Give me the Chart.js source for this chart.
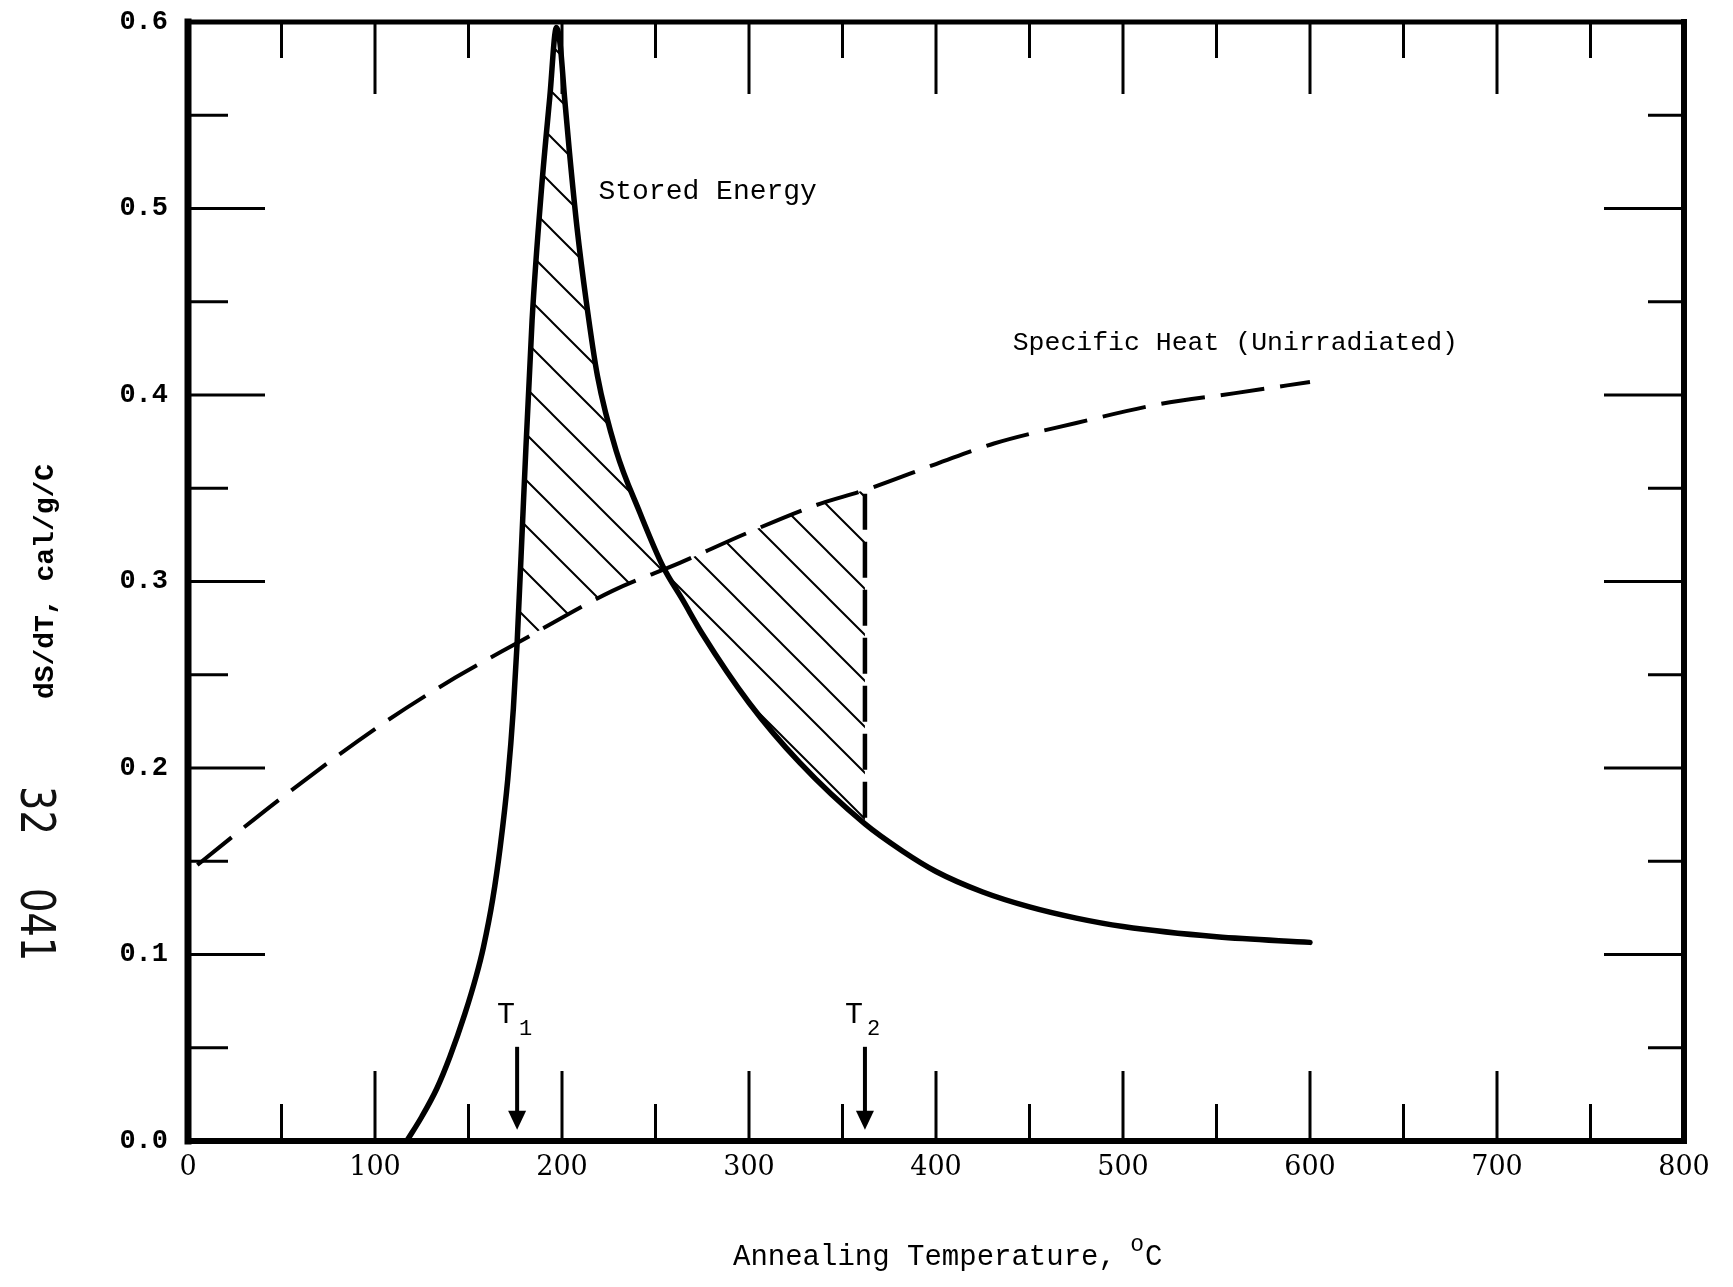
<!DOCTYPE html>
<html>
<head>
<meta charset="utf-8">
<title>Stored Energy and Specific Heat vs Annealing Temperature</title>
<script src="https://cdn.jsdelivr.net/npm/chart.js@4.4.1/dist/chart.umd.min.js"></script>
<style>
    html, body { margin: 0; padding: 0; background: #fff; }
    canvas { display: block; }
</style>
</head>
<body>
<canvas id="chart" width="1733" height="1287"></canvas>
<script>
// ---------- Data ----------
const storedTemps = [117, 125, 133, 140, 148, 154, 158, 163, 167, 171, 174, 176, 179.5, 184, 189, 193.5, 197, 199, 201.5, 204, 208, 213, 219, 229, 241.6, 254, 264.6, 275, 300, 327, 362, 382, 400, 425, 450, 475, 500, 550, 600];
const storedVals  = [0, 0.013, 0.028, 0.045, 0.068, 0.088, 0.104, 0.13, 0.158, 0.194, 0.232, 0.267, 0.345, 0.44, 0.51, 0.56, 0.597, 0.588, 0.558, 0.53, 0.49, 0.45, 0.41, 0.37, 0.337, 0.308, 0.29, 0.272, 0.235, 0.203, 0.17, 0.1555, 0.1445, 0.1335, 0.1255, 0.1195, 0.115, 0.1095, 0.1065];

const heatTemps = [5, 50, 103, 143, 176, 227, 263, 299, 336, 362, 400, 431, 475, 519, 560, 600];
const heatVals  = [0.148, 0.184, 0.223, 0.2485, 0.267, 0.295, 0.31, 0.326, 0.341, 0.349, 0.363, 0.374, 0.385, 0.395, 0.401, 0.407];

// T1 and T2 markers, and the dashed boundary at T2
const arrowTemps = [176, 362];
const arrowNames = ["1", "2"];
const t2LineVals = [0.347, 0.171];

// Tick labels
const xTickLabels = ["0", "100", "200", "300", "400", "500", "600", "700", "800"];
const yTickLabels = ["0.0", "0.1", "0.2", "0.3", "0.4", "0.5", "0.6"];

// Curve labels (data coordinates of the text start)
const curveLabels = [
    { text: "Stored Energy", t: 219.5, v: 0.505, size: 28 },
    { text: "Specific Heat (Unirradiated)", t: 441, v: 0.424, size: 26.5 }
];

// ---------- Helpers ----------
const toPts = (xs, ys) => xs.map((x, i) => ({ x: x, y: ys[i] }));
const inHatch = t => t >= arrowTemps[0] && t <= arrowTemps[1];

const storedPts = toPts(storedTemps, storedVals);
const heatPts = toPts(heatTemps, heatVals);

// diagonal "\" hatch pattern
function makeHatch() {
    const s = 46;
    const c = document.createElement("canvas");
    c.width = s;
    c.height = s;
    const g = c.getContext("2d");
    g.strokeStyle = "#000";
    g.lineWidth = 2;
    g.beginPath();
    g.moveTo(-4, -4); g.lineTo(s + 4, s + 4);
    g.moveTo(s - 4, -4); g.lineTo(s + 4, 4);
    g.moveTo(-4, s - 4); g.lineTo(4, s + 4);
    g.stroke();
    return g.createPattern(c, "repeat");
}
const hatch = makeHatch();

// ---------- Frame with inward ticks on all four sides ----------
const framePlugin = {
    id: "frame",
    afterDraw(chart) {
        const { ctx, chartArea: a, scales: { x, y } } = chart;
        ctx.save();
        ctx.strokeStyle = "#000";
        ctx.lineCap = "butt";

        ctx.lineWidth = 3;
        ctx.beginPath();
        for (let t = 50; t < 800; t += 50) {
            const px = x.getPixelForValue(t);
            const long = t % 100 === 0;
            ctx.moveTo(px, a.top);
            ctx.lineTo(px, a.top + (long ? 72 : 36));
            ctx.moveTo(px, a.bottom);
            ctx.lineTo(px, a.bottom - (long ? 70 : 37));
        }
        for (let i = 1; i < 12; i++) {
            const py = y.getPixelForValue(i * 0.05);
            const long = i % 2 === 0;
            ctx.moveTo(a.left, py);
            ctx.lineTo(a.left + (long ? 77 : 40), py);
            ctx.moveTo(a.right, py);
            ctx.lineTo(a.right - (long ? 80 : 36), py);
        }
        ctx.stroke();

        // sides
        ctx.lineCap = "square";
        ctx.lineWidth = 7;
        ctx.beginPath(); ctx.moveTo(a.left, a.top); ctx.lineTo(a.left, a.bottom); ctx.stroke();
        ctx.lineWidth = 6;
        ctx.beginPath(); ctx.moveTo(a.left, a.bottom); ctx.lineTo(a.right, a.bottom); ctx.stroke();
        ctx.beginPath(); ctx.moveTo(a.right, a.top); ctx.lineTo(a.right, a.bottom); ctx.stroke();
        ctx.lineWidth = 5;
        ctx.beginPath(); ctx.moveTo(a.left, a.top); ctx.lineTo(a.right, a.top); ctx.stroke();
        ctx.restore();
    }
};

// ---------- Labels, arrows, axis title ----------
const notesPlugin = {
    id: "notes",
    afterDraw(chart) {
        const { ctx, scales: { x, y } } = chart;
        ctx.save();
        ctx.fillStyle = "#000";
        ctx.strokeStyle = "#000";
        ctx.textBaseline = "alphabetic";
        ctx.textAlign = "left";

        // curve labels
        curveLabels.forEach(l => {
            ctx.font = l.size + 'px "Liberation Mono"';
            ctx.fillText(l.text, x.getPixelForValue(l.t), y.getPixelForValue(l.v));
        });

        // T1 / T2 arrows
        arrowTemps.forEach((t, i) => {
            const px = x.getPixelForValue(t);
            const top = y.getPixelForValue(0.0505);
            const tip = y.getPixelForValue(0.006);
            ctx.lineWidth = 4;
            ctx.beginPath();
            ctx.moveTo(px, top);
            ctx.lineTo(px, tip - 14);
            ctx.stroke();
            ctx.beginPath();
            ctx.moveTo(px - 9, tip - 19);
            ctx.lineTo(px + 9, tip - 19);
            ctx.lineTo(px, tip);
            ctx.closePath();
            ctx.fill();

            ctx.font = '30px "Liberation Mono"';
            ctx.fillText("T", px - 20, top - 24);
            ctx.font = '22px "Liberation Mono"';
            ctx.fillText(arrowNames[i], px + 2, top - 12);
        });

        // x axis title with superscript o
        let tx = 733;
        const ty = 1265;
        ctx.font = '29px "Liberation Mono"';
        const main = "Annealing Temperature, ";
        ctx.fillText(main, tx, ty);
        tx += ctx.measureText(main).width - 3;
        ctx.font = '23px "Liberation Mono"';
        ctx.fillText("o", tx, ty - 14);
        tx += ctx.measureText("o").width + 1;
        ctx.font = '29px "Liberation Mono"';
        ctx.fillText("C", tx, ty);

        // margin stamp
        ctx.fillStyle = "#111";
        ctx.font = '48px "DejaVu Sans"';
        ctx.textBaseline = "middle";
        [["32", 786], ["041", 888]].forEach(s => {
            ctx.save();
            ctx.translate(33, s[1]);
            ctx.rotate(Math.PI / 2);
            ctx.scale(0.8, 1);
            ctx.fillText(s[0], 0, 0);
            ctx.restore();
        });
        ctx.restore();
    }
};

// ---------- Chart ----------
const ctx = document.getElementById("chart").getContext("2d");

const chart = new Chart(ctx, {
    type: "line",
    data: {
        datasets: [
            {
                label: "hatch stored",
                data: storedPts.filter(p => inHatch(p.x)),
                borderColor: "rgba(0,0,0,0)",
                borderWidth: 1,
                pointRadius: 0,
                cubicInterpolationMode: "monotone",
                backgroundColor: hatch,
                fill: 1,
                order: 5
            },
            {
                label: "hatch heat",
                data: heatPts.filter(p => inHatch(p.x)),
                borderColor: "rgba(0,0,0,0)",
                borderWidth: 1,
                pointRadius: 0,
                cubicInterpolationMode: "monotone",
                fill: false,
                order: 6
            },
            {
                label: "Specific Heat (Unirradiated)",
                data: heatPts,
                borderColor: "#000",
                borderWidth: 4,
                borderDash: [44, 16],
                pointRadius: 0,
                cubicInterpolationMode: "monotone",
                fill: false,
                order: 1
            },
            {
                label: "Stored Energy",
                data: storedPts,
                borderColor: "#000",
                borderWidth: 5.5,
                borderCapStyle: "round",
                pointRadius: 0,
                cubicInterpolationMode: "monotone",
                fill: false,
                order: 0
            },
            {
                label: "T2 boundary",
                data: t2LineVals.map(v => ({ x: arrowTemps[1], y: v })),
                borderColor: "#000",
                borderWidth: 4.5,
                borderDash: [36, 12],
                pointRadius: 0,
                fill: false,
                order: 2
            }
        ]
    },
    options: {
        responsive: false,
        animation: false,
        events: [],
        layout: {
            padding: { left: 0, right: 49, top: 22, bottom: 0 }
        },
        plugins: {
            legend: { display: false },
            tooltip: { enabled: false }
        },
        scales: {
            x: {
                type: "linear",
                min: 0,
                max: 800,
                afterFit: s => { s.height = 146; },
                grid: { display: false, drawTicks: false },
                border: { display: false },
                ticks: {
                    stepSize: 100,
                    padding: 11,
                    color: "#000",
                    font: { family: "DejaVu Serif", size: 27 },
                    callback: (v, i) => xTickLabels[i]
                }
            },
            y: {
                type: "linear",
                min: 0,
                max: 0.6,
                afterFit: s => { s.width = 188; },
                grid: { display: false, drawTicks: true, tickLength: 17 },
                border: { display: false },
                ticks: {
                    stepSize: 0.1,
                    padding: 3,
                    color: "#000",
                    font: { family: "Liberation Mono", size: 27, weight: "bold" },
                    callback: (v, i) => yTickLabels[i]
                },
                title: {
                    display: true,
                    text: "dS/dT, cal/g/C",
                    color: "#000",
                    font: { family: "Liberation Mono", size: 28, weight: "bold" },
                    padding: { top: 29, bottom: 0 }
                }
            }
        }
    },
    plugins: [framePlugin, notesPlugin]
});
</script>
</body>
</html>
